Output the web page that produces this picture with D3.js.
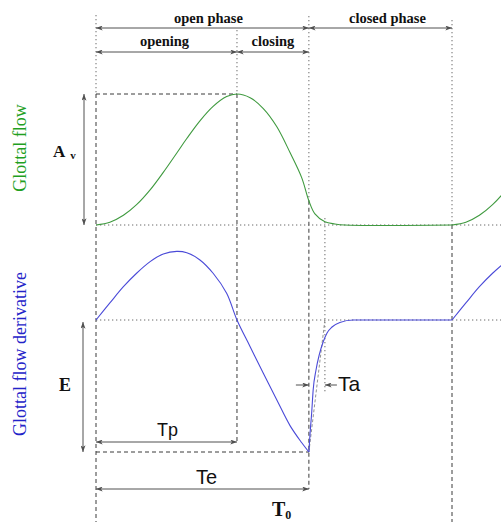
<!DOCTYPE html>
<html>
<head>
<meta charset="utf-8">
<script src="https://cdn.jsdelivr.net/npm/d3@7"></script>
<style>
  html, body { margin: 0; padding: 0; background: #fff; }
  svg { display: block; }
</style>
</head>
<body>
<script>
// LF model of one glottal cycle, time normalised to the period (T0 = 1),
// flow normalised to its peak Av = 1, derivative normalised to E = 1.
const timingNames  = ["Tp", "Te", "Ta", "T0"];
const timingValues = [0.396, 0.598, 0.045, 1.0];

// Glottal flow over one period
const flowT = [0, 0.039, 0.077, 0.114, 0.152, 0.189, 0.227, 0.255, 0.292, 0.329, 0.367, 0.396,
               0.433, 0.470, 0.508, 0.545, 0.578, 0.598, 0.615, 0.643, 0.671, 0.699, 1.0];
const flowU = [0, 0.021, 0.074, 0.155, 0.268, 0.402, 0.550, 0.660, 0.795, 0.905, 0.980, 1.0,
               0.972, 0.889, 0.750, 0.553, 0.360, 0.185, 0.085, 0.025, 0.008, 0, 0];

// Flow derivative, open phase (0 .. Te)
const derivOpenT = [0, 0.039, 0.077, 0.114, 0.152, 0.189, 0.227, 0.255, 0.292, 0.329, 0.367, 0.396,
                    0.433, 0.470, 0.508, 0.545, 0.578, 0.598];
const derivOpenV = [0, 0.129, 0.252, 0.354, 0.442, 0.500, 0.520, 0.510, 0.455, 0.354, 0.202, 0,
                    -0.202, -0.404, -0.606, -0.800, -0.930, -1];

// Flow derivative, return and closed phase (Te .. T0)
const derivReturnT = [0.598, 0.601, 0.606, 0.610, 0.618, 0.627, 0.638, 0.649, 0.663, 0.685, 0.722, 1.0];
const derivReturnV = [-1, -0.871, -0.697, -0.530, -0.379, -0.265, -0.167, -0.098, -0.053, -0.019, 0, 0];

const phaseLabels    = ["open phase", "closed phase"];
const subPhaseLabels = ["opening", "closing"];
const axisLabels     = ["Glottal flow", "Glottal flow derivative"];

const timing = Object.fromEntries(timingNames.map((n, i) => [n, timingValues[i]]));
const { Tp, Te, Ta, T0 } = timing;

const W = 501, H = 522;
const svg = d3.select("body").append("svg").attr("width", W).attr("height", H);

const x = d3.scaleLinear().domain([0, T0]).range([96, 452]);
const yFlow = d3.scaleLinear().domain([0, 1]).range([225, 94]);
const yDer = d3.scaleLinear().domain([-1, 0]).range([452, 320]);

const GREEN_LINE = "#3f9a3f", GREEN_TEXT = "#1fa01f";
const BLUE_LINE = "#4a4ad8", BLUE_TEXT = "#2323c8";
const ARROW = "#505050";

// arrow heads
const defs = svg.append("defs");
defs.append("marker")
  .attr("id", "head").attr("viewBox", "0 0 8 6")
  .attr("refX", 8).attr("refY", 3)
  .attr("markerWidth", 7).attr("markerHeight", 5)
  .attr("markerUnits", "userSpaceOnUse")
  .attr("orient", "auto-start-reverse")
  .append("path").attr("d", "M0,0 L8,3 L0,6 L2,3 z").attr("fill", ARROW);

const guides = svg.append("g").attr("fill", "none");
function guide(x1, y1, x2, y2, kind) {
  const dashed = kind === "dashed";
  guides.append("line")
    .attr("x1", x1).attr("y1", y1).attr("x2", x2).attr("y2", y2)
    .attr("stroke", dashed ? "#3a3a3a" : "#6a6a6a")
    .attr("stroke-width", 1)
    .attr("stroke-dasharray", dashed ? "4,3" : "1.3,2.7");
}
function arrow(x1, y1, x2, y2, both) {
  const l = svg.append("line")
    .attr("x1", x1).attr("y1", y1).attr("x2", x2).attr("y2", y2)
    .attr("stroke", ARROW).attr("stroke-width", 1)
    .attr("marker-end", "url(#head)");
  if (both) l.attr("marker-start", "url(#head)");
}

// vertical guides
guide(x(0), 15, x(0), yFlow(1), "dotted");
guide(x(0), yFlow(1), x(0), H, "dashed");
guide(x(Tp), 30, x(Tp), yFlow(1), "dotted");
guide(x(Tp), yFlow(1), x(Tp), 442, "dashed");
guide(x(Te), 16, x(Te), yFlow(0.185), "dotted");
guide(x(Te), yFlow(0.185), x(Te), 489, "dashed");
guide(x(T0), 20, x(T0), yFlow(0), "dotted");
guide(x(T0), yFlow(0), x(T0), H, "dashed");
guide(x(Te + Ta), 218, x(Te + Ta), 393, "dotted");

// horizontal guides
guide(x(0), yFlow(1), x(Tp), yFlow(1), "dashed");
guide(x(0), yFlow(0), W, yFlow(0), "dotted");
guide(x(0), yDer(0), W, yDer(0), "dotted");
guide(x(0), yDer(-1), x(Te), yDer(-1), "dashed");

// tangent of the return phase at Te, reaching zero at Te + Ta
svg.append("line")
  .attr("x1", x(Te)).attr("y1", yDer(-1)).attr("x2", x(Te + Ta)).attr("y2", yDer(0))
  .attr("stroke", "#777").attr("stroke-width", 0.8).attr("stroke-dasharray", "3,2");

// curves, drawn for this period and the start of the next one
const smooth = d3.curveCatmullRom.alpha(0.5);
const flowLine = d3.line().x(d => x(d[0])).y(d => yFlow(d[1])).curve(smooth);
const derOpenLine = d3.line().x(d => x(d[0])).y(d => yDer(d[1])).curve(smooth);
const derReturnLine = d3.line().x(d => x(d[0])).y(d => yDer(d[1])).curve(d3.curveMonotoneX);
const curves = svg.append("g").attr("fill", "none").attr("stroke-width", 1.1);

[0, 1].forEach(k => {
  const shift = k * T0;
  curves.append("path")
    .attr("d", flowLine(flowT.map((t, i) => [t + shift, flowU[i]])))
    .attr("stroke", GREEN_LINE);
  curves.append("path")
    .attr("d", derOpenLine(derivOpenT.map((t, i) => [t + shift, derivOpenV[i]])))
    .attr("stroke", BLUE_LINE);
  curves.append("path")
    .attr("d", derReturnLine(derivReturnT.map((t, i) => [t + shift, derivReturnV[i]])))
    .attr("stroke", BLUE_LINE);
});

// phase annotations
const serifBold = "'Liberation Serif', 'DejaVu Serif', serif";
const sans = "'Liberation Sans', Arial, sans-serif";

arrow(x(0), 28, x(Te), 28, true);
arrow(x(Te), 28, x(T0), 28, true);
arrow(x(0), 52, x(Tp), 52, true);
arrow(x(Tp), 52, x(Te), 52, true);

const topText = [
  { text: phaseLabels[0], cx: (x(0) + x(Te)) / 2 + 6, y: 23 },
  { text: phaseLabels[1], cx: (x(Te) + x(T0)) / 2 + 7, y: 23 },
  { text: subPhaseLabels[0], cx: (x(0) + x(Tp)) / 2 - 2, y: 46 },
  { text: subPhaseLabels[1], cx: (x(Tp) + x(Te)) / 2, y: 46 }
];
svg.selectAll("text.phase").data(topText).join("text")
  .attr("class", "phase")
  .attr("x", d => d.cx).attr("y", d => d.y)
  .attr("text-anchor", "middle")
  .attr("font-family", serifBold).attr("font-weight", "bold").attr("font-size", 14.5)
  .attr("fill", "#111")
  .text(d => d.text);

// axis titles
[{ text: axisLabels[0], cy: 148, fill: GREEN_TEXT }, { text: axisLabels[1], cy: 354, fill: BLUE_TEXT }]
  .forEach(d => {
    svg.append("text")
      .attr("transform", `translate(26,${d.cy}) rotate(-90)`)
      .attr("text-anchor", "middle")
      .attr("font-family", serifBold).attr("font-size", 18)
      .attr("fill", d.fill)
      .text(d.text);
  });

// amplitude arrows
arrow(84, yFlow(1), 84, yFlow(0), true);
arrow(83, yDer(0) + 2, 83, yDer(-1), true);

const av = svg.append("text").attr("x", 53).attr("y", 157)
  .attr("font-family", serifBold).attr("font-weight", "bold").attr("fill", "#111");
av.append("tspan").attr("font-size", 17).text("A");
av.append("tspan").attr("font-size", 11).attr("dx", 5).attr("dy", 2).text("v");

svg.append("text").attr("x", 59).attr("y", 391)
  .attr("font-family", serifBold).attr("font-weight", "bold").attr("font-size", 18)
  .attr("fill", "#111").text("E");

// time intervals
arrow(x(0), 442, x(Tp), 442, true);
arrow(x(0), 489, x(Te), 489, true);
arrow(x(Te) - 13, 385, x(Te), 385, false);
arrow(x(Te + Ta) + 12, 385, x(Te + Ta), 385, false);

function timeLabel(sub, px, py, size, anchor) {
  const t = svg.append("text").attr("x", px).attr("y", py)
    .attr("text-anchor", anchor)
    .attr("font-family", sans).attr("font-size", size).attr("fill", "#111");
  t.append("tspan").text("T");
  t.append("tspan").text(sub);
}
timeLabel("p", (x(0) + x(Tp)) / 2 + 1, 436, 18, "middle");
timeLabel("e", (x(0) + x(Te)) / 2 + 4, 484, 20, "middle");
timeLabel("a", x(Te + Ta) + 13, 391, 21, "start");

const t0 = svg.append("text").attr("x", 272).attr("y", 516)
  .attr("font-family", serifBold).attr("font-weight", "bold").attr("fill", "#111");
t0.append("tspan").attr("font-size", 20).text("T");
t0.append("tspan").attr("font-size", 12).attr("dy", 3).text("0");
</script>
</body>
</html>
